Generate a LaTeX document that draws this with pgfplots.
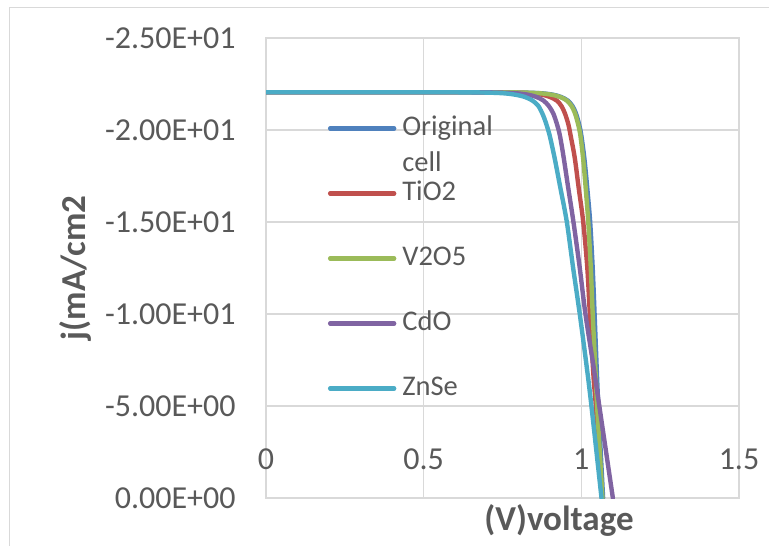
\documentclass[border=0pt]{standalone}
\usepackage{fontspec}
\setmainfont{Carlito}
\usepackage{pgfplots}
\pgfplotsset{compat=1.18}
\definecolor{gridc}{HTML}{D9D9D9}
\definecolor{txt}{HTML}{595959}
\definecolor{cblue}{HTML}{4F81BD}
\definecolor{cred}{HTML}{C0504D}
\definecolor{cgreen}{HTML}{9BBB59}
\definecolor{cpurple}{HTML}{8064A2}
\definecolor{ccyan}{HTML}{4BACC6}
\begin{document}
\begin{tikzpicture}
\useasboundingbox (0,0) rectangle (384.5pt,272.5pt);
\draw[gridc, line width=0.7pt] (4.75pt,-2pt) -- (4.75pt,268.75pt) -- (390pt,268.75pt);
\begin{axis}[
  at={(133pt,23.5pt)}, anchor=south west,
  scale only axis, width=236.5pt, height=230pt,
  xmin=0, xmax=1.5, ymin=-25, ymax=0, y dir=reverse,
  xtick={0,0.5,1,1.5}, xticklabels={0,0.5,1,1.5},
  ytick={-25,-20,-15,-10,-5,0},
  yticklabels={-2.50E+01,-2.00E+01,-1.50E+01,-1.00E+01,-5.00E+00,0.00E+00},
  grid=major, grid style={gridc, line width=0.8pt},
  axis line style={gridc, line width=0.8pt},
  major tick length=0pt,
  tick label style={font=\fontsize{16}{19}\selectfont, text=txt},
  yticklabel style={anchor=east, inner sep=0pt, xshift=-15pt},
  xticklabel style={anchor=center, inner sep=0pt, yshift=19.5pt},
  legend cell align=left,
  legend style={at={(axis description cs:0.131,0.835)}, anchor=north west,
    draw=none, fill=none, inner sep=0pt, outer sep=0pt,
    font=\fontsize{14.25}{18}\selectfont, text=txt,
    row sep=18pt, column sep=3pt,
    nodes={inner sep=0pt, text height=11pt, text depth=3.5pt}},
  legend image code/.code={\draw[#1, line width=2.2pt] (0pt,0pt) -- (32pt,0pt);},
  every axis plot/.append style={line width=2.2pt, line join=round, line cap=round},
]
\addplot[cblue, smooth] coordinates {(0,-22.05) (0.4,-22.05) (0.7,-22.05) (0.80,-22.04) (0.87,-22.0) (0.91,-21.92) (0.935,-21.8) (0.957,-21.6) (0.972,-21.3) (0.983,-20.9) (0.993,-20.3) (1.000,-19.7) (1.010,-18.4) (1.019,-16.8) (1.028,-15.0) (1.036,-12.5) (1.042,-10.0) (1.050,-6.5) (1.054,-5.0) (1.069,0)};
\addlegendentry{\begin{tabular}[t]{@{}l@{}}Original\\cell\end{tabular}}
\addplot[cred, smooth] coordinates {(0,-22.05) (0.4,-22.05) (0.68,-22.05) (0.77,-22.04) (0.835,-22.0) (0.875,-21.92) (0.90,-21.8) (0.922,-21.6) (0.937,-21.3) (0.948,-20.9) (0.959,-20.3) (0.966,-19.7) (0.979,-18.5) (0.992,-16.8) (1.006,-15.0) (1.019,-12.5) (1.027,-10.0) (1.039,-6.5) (1.046,-5.0) (1.065,0)};
\addlegendentry{TiO2}
\addplot[cgreen, smooth] coordinates {(0,-22.05) (0.4,-22.05) (0.7,-22.05) (0.80,-22.04) (0.865,-22.0) (0.905,-21.92) (0.932,-21.8) (0.954,-21.6) (0.969,-21.3) (0.980,-20.9) (0.990,-20.3) (0.997,-19.7) (1.006,-18.4) (1.014,-16.8) (1.022,-15.0) (1.030,-12.5) (1.036,-10.0) (1.046,-6.5) (1.050,-5.0) (1.067,0)};
\addlegendentry{V2O5}
\addplot[cpurple, smooth] coordinates {(0,-22.05) (0.4,-22.05) (0.62,-22.05) (0.72,-22.04) (0.79,-22.0) (0.83,-21.92) (0.857,-21.8) (0.880,-21.6) (0.897,-21.3) (0.911,-20.9) (0.923,-20.3) (0.932,-19.7) (0.944,-18.5) (0.958,-16.9) (0.975,-15.0) (0.995,-12.5) (1.013,-10.0) (1.040,-7.0) (1.057,-5.0) (1.100,0)};
\addlegendentry{CdO}
\addplot[ccyan, smooth] coordinates {(0,-22.05) (0.4,-22.05) (0.58,-22.05) (0.68,-22.04) (0.75,-22.0) (0.79,-21.92) (0.82,-21.8) (0.845,-21.6) (0.864,-21.3) (0.880,-20.75) (0.893,-20.1) (0.901,-19.6) (0.915,-18.5) (0.933,-16.9) (0.954,-15.0) (0.974,-12.5) (0.995,-10.0) (1.018,-7.0) (1.032,-5.0) (1.064,0)};
\addlegendentry{ZnSe}
\end{axis}
\node[rotate=90, font=\bfseries\fontsize{17.5}{21}\selectfont, text=txt] at (37.5pt,138.5pt) {j(mA/cm2};
\node[font=\bfseries\fontsize{17.5}{21}\selectfont, text=txt] at (279.5pt,12.5pt) {(V)voltage};
\end{tikzpicture}
\end{document}
